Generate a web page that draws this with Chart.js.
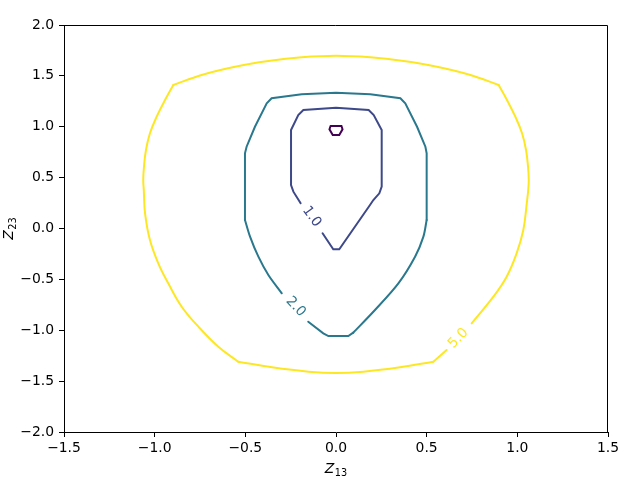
<!DOCTYPE html>
<html>
<head>
<meta charset="utf-8">
<script src="https://cdn.jsdelivr.net/npm/chart.js@4"></script>
<style>
html,body{margin:0;padding:0;background:#fff;}
#c{display:block;}
</style>
</head>
<body>
<canvas id="c" width="640" height="480"></canvas>
<script>
// ---- data (data coordinates) ----
const xTicks = [-1.5, -1.0, -0.5, 0.0, 0.5, 1.0, 1.5];
const yTicks = [-2.0, -1.5, -1.0, -0.5, 0.0, 0.5, 1.0, 1.5, 2.0];

const levels = [0.5, 1.0, 2.0, 5.0];
const levelColors = ['#440154', '#3e4989', '#2a788e', '#fde725'];

// innermost small closed contour
const c0x = [-0.030, 0.030, 0.036, 0.018, -0.018, -0.036, -0.030];
const c0y = [1.007, 1.007, 0.975, 0.920, 0.920, 0.975, 1.007];

// level 1.0 (gap for label)
const c1x = [-0.074, -0.015, 0.018, 0.1875, 0.206, 0.239, 0.252, 0.252, 0.208, 0.180, 0.0, -0.180, -0.208, -0.248, -0.248, -0.235, -0.195];
const c1y = [-0.047, -0.205, -0.205, 0.231, 0.280, 0.346, 0.411, 0.968, 1.115, 1.165, 1.187, 1.165, 1.115, 0.968, 0.427, 0.362, 0.248];

// level 2.0 (gap for label), split into pieces
const c2aX = [-0.153, -0.070, -0.042, 0.068, 0.095];
const c2aY = [-0.916, -1.030, -1.057, -1.057, -1.024];
const c2bX = [0.095, 0.215, 0.344, 0.436, 0.482, 0.500];
const c2bY = [-1.024, -0.801, -0.539, -0.277, -0.080, 0.084];
const c2cX = [0.500, 0.500, 0.493, 0.447, 0.382, 0.355, 0.189, 0.0, -0.189, -0.355, -0.382, -0.447, -0.493, -0.502, -0.502];
const c2cY = [0.084, 0.739, 0.804, 1.000, 1.230, 1.280, 1.319, 1.335, 1.319, 1.280, 1.230, 1.000, 0.804, 0.739, 0.084];
const c2dX = [-0.502, -0.474, -0.428, -0.373, -0.299];
const c2dY = [0.084, -0.080, -0.277, -0.457, -0.637];

// level 5.0 (gap for label), split at its corners
const c3aX = [0.748, 0.868, 0.941, 0.996, 1.033, 1.052, 1.060, 1.063, 1.059, 1.048, 1.026, 0.989, 0.943, 0.897];
const c3aY = [-0.932, -0.670, -0.474, -0.244, -0.015, 0.248, 0.378, 0.477, 0.607, 0.771, 0.936, 1.099, 1.263, 1.410];
const c3bX = [0.897, 0.741, 0.557, 0.373, 0.189, 0.0, -0.189, -0.373, -0.557, -0.741, -0.897];
const c3bY = [1.410, 1.509, 1.590, 1.646, 1.683, 1.698, 1.683, 1.646, 1.590, 1.509, 1.410];
const c3cX = [-0.897, -0.943, -0.989, -1.026, -1.048, -1.059, -1.063, -1.060, -1.053, -1.026, -0.980, -0.925, -0.851, -0.759, -0.649, -0.539];
const c3cY = [1.410, 1.263, 1.099, 0.936, 0.771, 0.607, 0.477, 0.378, 0.149, -0.113, -0.342, -0.539, -0.769, -0.965, -1.162, -1.309];
const c3dX = [-0.539, -0.353, -0.151, 0.0, 0.151, 0.353, 0.537];
const c3dY = [-1.309, -1.364, -1.407, -1.420, -1.407, -1.364, -1.309];
const c3eX = [0.537, 0.610];
const c3eY = [-1.309, -1.194];

// inline contour labels: text, anchor (data coords), rotation in degrees
const labelText = ['1.0', '2.0', '5.0'];
const labelX = [-0.134, -0.222, 0.675];
const labelY = [0.116, -0.769, -1.079];
const labelRot = [54, 47, -46];
const labelLevel = [1, 2, 3];

// ---- build chart ----
function pts(xs, ys) { return xs.map((x, i) => ({x: x, y: ys[i]})); }
// [xs, ys, level index, smoothing]
const pieces = [
  [c0x, c0y, 0, 0],
  [c1x, c1y, 1, 0],
  [c2aX, c2aY, 2, 0], [c2bX, c2bY, 2, 0.3], [c2cX, c2cY, 2, 0], [c2dX, c2dY, 2, 0.3],
  [c3aX, c3aY, 3, 0.4], [c3bX, c3bY, 3, 0.4], [c3cX, c3cY, 3, 0.4], [c3dX, c3dY, 3, 0.4], [c3eX, c3eY, 3, 0]
];
const datasets = pieces.map(p => ({
  label: String(levels[p[2]]),
  data: pts(p[0], p[1]),
  showLine: true,
  borderColor: levelColors[p[2]],
  backgroundColor: levelColors[p[2]],
  borderWidth: 2,
  pointRadius: 0,
  tension: p[3],
  borderCapStyle: 'round',
  fill: false
}));

const fmt = v => (v < 0 ? '\u2212' : '') + Math.abs(v).toFixed(1);
const FONT = 'DejaVu Sans';

const extras = {
  id: 'extras',
  afterDraw(chart) {
    const ctx = chart.ctx, a = chart.chartArea;
    const xs = chart.scales.x, ys = chart.scales.y;
    ctx.save();
    // top and right spines
    ctx.strokeStyle = '#000';
    ctx.lineWidth = 1;
    ctx.beginPath();
    ctx.moveTo(Math.round(a.left), Math.round(a.top) + 0.5);
    ctx.lineTo(Math.round(a.right) - 0.5, Math.round(a.top) + 0.5);
    ctx.lineTo(Math.round(a.right) - 0.5, Math.round(a.bottom));
    ctx.stroke();
    // contour labels
    ctx.font = '13.9px "' + FONT + '"';
    ctx.textAlign = 'center';
    ctx.textBaseline = 'middle';
    labelText.forEach((t, i) => {
      const px = xs.getPixelForValue(labelX[i]);
      const py = ys.getPixelForValue(labelY[i]);
      ctx.save();
      ctx.translate(px, py);
      ctx.rotate(labelRot[i] * Math.PI / 180);
      ctx.fillStyle = levelColors[labelLevel[i]];
      ctx.fillText(t, 0, 0);
      ctx.restore();
    });
    // axis titles (Z with subscript)
    function drawTitle(main, sub, cx, cy, rot) {
      ctx.save();
      ctx.translate(cx, cy);
      ctx.rotate(rot);
      ctx.fillStyle = '#000';
      ctx.textBaseline = 'alphabetic';
      ctx.textAlign = 'left';
      ctx.font = 'oblique 13.9px "' + FONT + '"';
      const w1 = ctx.measureText(main).width;
      ctx.font = '9.7px "' + FONT + '"';
      const w2 = ctx.measureText(sub).width;
      const total = w1 + w2 + 0.5;
      ctx.font = 'oblique 13.9px "' + FONT + '"';
      ctx.fillText(main, -total / 2, 0);
      ctx.font = '9.7px "' + FONT + '"';
      ctx.fillText(sub, -total / 2 + w1 + 0.5, 3);
      ctx.restore();
    }
    drawTitle('Z', '13', (a.left + a.right) / 2, 473, 0);
    drawTitle('Z', '23', 13, (a.top + a.bottom) / 2, -Math.PI / 2);
    ctx.restore();
  }
};

new Chart(document.getElementById('c'), {
  type: 'scatter',
  data: { datasets: datasets },
  options: {
    responsive: false,
    animation: false,
    devicePixelRatio: 1,
    layout: { padding: { left: 0, right: 32, top: 25, bottom: 0 } },
    plugins: { legend: { display: false }, tooltip: { enabled: false } },
    scales: {
      x: {
        type: 'linear', min: -1.5, max: 1.5,
        afterFit(s) { s.height = 48; },
        afterBuildTicks(s) { s.ticks = xTicks.map(v => ({value: v})); },
        ticks: { callback: v => fmt(v), color: '#000', font: { family: FONT, size: 13.9 }, padding: 3, maxRotation: 0, autoSkip: false },
        grid: { display: true, drawOnChartArea: false, drawTicks: true, tickLength: 5, tickColor: '#000', color: '#000' },
        border: { display: true, color: '#000', width: 1 }
      },
      y: {
        type: 'linear', min: -2, max: 2,
        afterFit(s) { s.width = 64; },
        afterBuildTicks(s) { s.ticks = yTicks.map(v => ({value: v})); },
        ticks: { callback: v => fmt(v), color: '#000', font: { family: FONT, size: 13.9 }, padding: 5, autoSkip: false },
        grid: { display: true, drawOnChartArea: false, drawTicks: true, tickLength: 5, tickColor: '#000', color: '#000' },
        border: { display: true, color: '#000', width: 1 }
      }
    }
  },
  plugins: [extras]
});
</script>
</body>
</html>
